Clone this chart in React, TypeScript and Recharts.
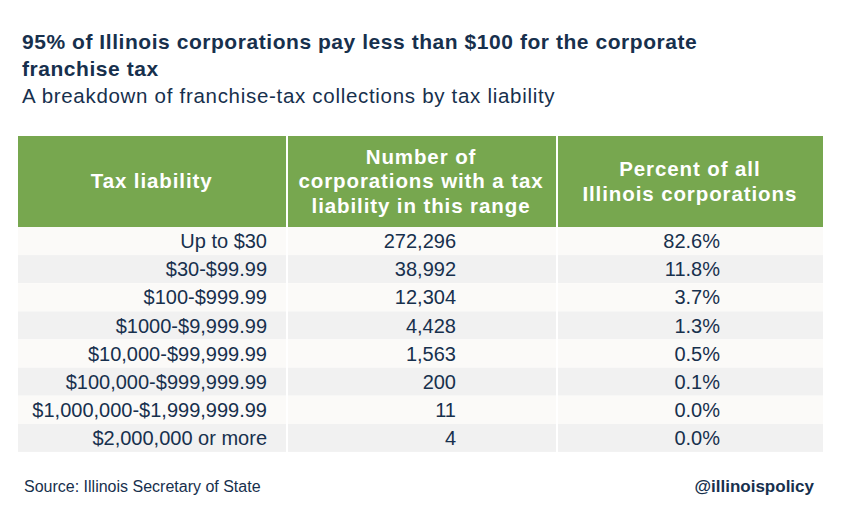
import { BarChart, Bar, XAxis, YAxis, LabelList } from "recharts"

const liabilities = [
  "Up to $30",
  "$30-$99.99",
  "$100-$999.99",
  "$1000-$9,999.99",
  "$10,000-$99,999.99",
  "$100,000-$999,999.99",
  "$1,000,000-$1,999,999.99",
  "$2,000,000 or more",
]
const counts = [272296, 38992, 12304, 4428, 1563, 200, 11, 4]
const percents = [82.6, 11.8, 3.7, 1.3, 0.5, 0.1, 0.0, 0.0]

const headers = [
  ["Tax liability"],
  ["Number of", "corporations with a tax", "liability in this range"],
  ["Percent of all", "Illinois corporations"],
]

const rows = liabilities.map((liability, i) => ({
  liability,
  count: counts[i],
  pct: percents[i],
}))

const NAVY = "#17304d"
const GREEN = "#77a74f"
const FONT = "'Liberation Sans', Arial, Helvetica, sans-serif"

// right edges of each column, inside the chart box (chart starts at x=18)
const colRight = [249, 438, 702]

function cellText(col: number, fmt: (v: any) => string) {
  return (props: any) => {
    const vb = props.viewBox ?? props
    const y = (vb.y ?? 0) + (vb.height ?? 0) / 2
    return (
      <text
        x={colRight[col]}
        y={y}
        dy="0.36em"
        textAnchor="end"
        fill={NAVY}
        fontSize={20}
        fontFamily={FONT}
      >
        {fmt(props.value)}
      </text>
    )
  }
}

export default function App() {
  return (
    <div
      style={{
        position: "absolute",
        left: 0,
        top: 0,
        width: 841,
        height: 517,
        background: "#fff",
        fontFamily: FONT,
        color: NAVY,
      }}
    >
      <div
        style={{
          position: "absolute",
          left: 22,
          top: 28,
          width: 700,
          fontSize: 21,
          fontWeight: 700,
          letterSpacing: 0.55,
          lineHeight: "27px",
        }}
      >
        95% of Illinois corporations pay less than $100 for the corporate franchise tax
      </div>
      <div
        style={{
          position: "absolute",
          left: 22,
          top: 82,
          fontSize: 20.5,
          fontWeight: 300,
          letterSpacing: 0.7,
          lineHeight: "27px",
        }}
      >
        A breakdown of franchise-tax collections by tax liability
      </div>

      {/* header row */}
      <div
        style={{
          position: "absolute",
          left: 18,
          top: 136,
          width: 805,
          height: 91,
          background: GREEN,
          display: "flex",
        }}
      >
        {headers.map((lines, i) => (
          <div
            key={i}
            style={{
              width: i === 2 ? 267 : 268,
              marginLeft: i === 0 ? 0 : 2,
              display: "flex",
              flexDirection: "column",
              justifyContent: "center",
              alignItems: "center",
              color: "#fff",
              fontWeight: 700,
              fontSize: 20.5,
              letterSpacing: 0.9,
              lineHeight: "24.5px",
              textAlign: "center",
            }}
          >
            {lines.map((l) => (
              <div key={l}>{l}</div>
            ))}
          </div>
        ))}
      </div>

      {/* table body */}
      <div style={{ position: "absolute", left: 18, top: 227 }}>
        <BarChart
          width={805}
          height={225}
          data={rows}
          layout="vertical"
          margin={{ top: 0, right: 0, bottom: 0, left: 0 }}
          barCategoryGap={0}
        >
          <XAxis type="number" hide />
          <YAxis type="category" dataKey="liability" hide />
          <Bar
            dataKey="count"
            fill="none"
            isAnimationActive={false}
            background={(p: any) => (
              <rect
                key={`bg-${p.index}`}
                x={0}
                y={p.y}
                width={805}
                height={p.height}
                fill={p.index % 2 === 0 ? "#fbfaf8" : "#f1f1f1"}
              />
            )}
          >
            <LabelList dataKey="liability" content={cellText(0, (v) => String(v))} />
            <LabelList
              dataKey="count"
              content={cellText(1, (v) => Number(v).toLocaleString("en-US"))}
            />
            <LabelList
              dataKey="pct"
              content={cellText(2, (v) => `${Number(v).toFixed(1)}%`)}
            />
          </Bar>
        </BarChart>
      </div>

      {/* column separators */}
      <div style={{ position: "absolute", left: 286, top: 136, width: 2, height: 316, background: "#fff" }} />
      <div style={{ position: "absolute", left: 556, top: 136, width: 2, height: 316, background: "#fff" }} />

      <div style={{ position: "absolute", left: 24, top: 478, fontSize: 16 }}>
        Source: Illinois Secretary of State
      </div>
      <div
        style={{
          position: "absolute",
          right: 27,
          top: 477,
          fontSize: 17,
          fontWeight: 700,
        }}
      >
        @illinoispolicy
      </div>
    </div>
  )
}
